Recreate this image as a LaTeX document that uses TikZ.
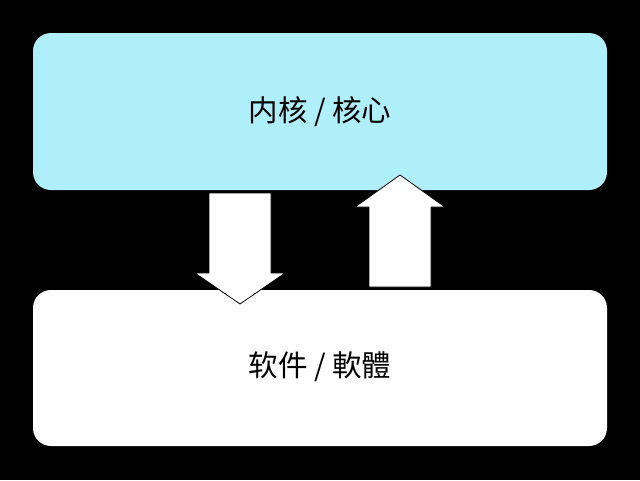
\documentclass[tikz,border=0pt]{standalone}
\usepackage{fontspec}
\usepackage{xcolor}
\newfontfamily\cjk{Noto Sans CJK SC}
\definecolor{kernelcyan}{RGB}{174,239,251}
\tikzset{
	layerbox/.style={rounded corners=18pt},
	layertext/.style={font=\cjk\fontsize{29.5}{34}\selectfont},
	blockarrow/.style={fill=white, draw=black, line width=0.8pt}
}
\begin{document}
\begin{tikzpicture}[x=1pt, y=-1pt]
		\fill[black](0,0)rectangle(640,480);
		\useasboundingbox(0,0)rectangle(640,480);
		\fill[layerbox, kernelcyan](33,33)rectangle(607,190);
		\fill[layerbox, white](33,290)rectangle(607,446);
		\node[layertext](kernel) at (320,112){内核 / 核心};
		\node[layertext](software) at (320,367){软件 / 軟體};
		\draw[blockarrow](209,193)--(271,193)--(271,273)--(285,273)--(240,304)--(195,273)--(209,273)--cycle;
		\draw[blockarrow](369,287)--(431,287)--(431,207)--(445,207)--(400,175)--(355,207)--(369,207)--cycle;
		\end{tikzpicture}
\end{document}
